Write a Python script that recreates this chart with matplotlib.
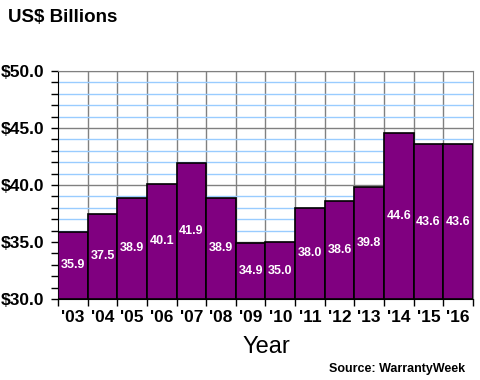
import matplotlib
matplotlib.use("Agg")
import matplotlib.pyplot as plt
from matplotlib.ticker import MultipleLocator

plt.rcParams['font.family'] = ['Liberation Sans', 'DejaVu Sans']

years = ["'03", "'04", "'05", "'06", "'07", "'08", "'09", "'10",
         "'11", "'12", "'13", "'14", "'15", "'16"]
values = [35.9, 37.5, 38.9, 40.1, 41.9, 38.9, 34.9, 35.0,
          38.0, 38.6, 39.8, 44.6, 43.6, 43.6]
ymin, ymax = 30, 50

fig = plt.figure(figsize=(4.8, 3.8), dpi=100)
ax = fig.add_axes([0.121, 0.213, 0.864, 0.600])

x = list(range(len(years)))
ax.bar(x, [v - ymin for v in values], bottom=ymin, width=1.0,
       color='#800080', edgecolor='black', linewidth=1.2, zorder=3)

for xi, v in zip(x, values):
    ax.text(xi, (v + ymin) / 2, f"{v:.1f}", ha='center', va='center',
            color='white', fontsize=9, fontweight='bold', zorder=4)

ax.set_xlim(-0.5, len(years) - 0.5)
ax.set_ylim(ymin, ymax)

# y grid: major gray, minor light blue
ax.yaxis.set_major_locator(MultipleLocator(5))
ax.yaxis.set_minor_locator(MultipleLocator(1))
ax.grid(axis='y', which='major', color='#808080', linewidth=1, zorder=1)
ax.grid(axis='y', which='minor', color='#99CCFF', linewidth=1, zorder=0)

# vertical gridlines at bar boundaries
for b in range(1, len(years)):
    ax.axvline(b - 0.5, color='#808080', linewidth=1, zorder=1)

ax.set_yticks([30, 35, 40, 45, 50])
ax.set_yticklabels([f"${t:.1f}" for t in [30, 35, 40, 45, 50]],
                   fontsize=12.5, fontweight='bold')
ax.set_xticks(x)
ax.set_xticklabels(years, fontsize=12.5, fontweight='bold')
ax.set_xticks([b - 0.5 for b in range(len(years) + 1)], minor=True)
ax.tick_params(axis='x', which='major', length=0, pad=8)
ax.tick_params(axis='x', which='minor', length=5, direction='out', width=1)
ax.tick_params(axis='y', which='major', length=5, width=1, direction='out', pad=5)
ax.tick_params(axis='y', which='minor', length=5, width=1, direction='out')

for side in ['top', 'right']:
    ax.spines[side].set_color('#808080')
ax.spines['left'].set_color('black')
ax.spines['bottom'].set_color('black')

fig.text(0.017, 0.955, "US$ Billions", fontsize=13.5, fontweight='bold',
         ha='left', va='center')
fig.text(0.555, 0.088, "Year", fontsize=17, ha='center', va='center')
fig.text(0.97, 0.03, "Source: WarrantyWeek", fontsize=9, fontweight='bold',
         ha='right', va='center')

fig.savefig("out.png", dpi=100)
